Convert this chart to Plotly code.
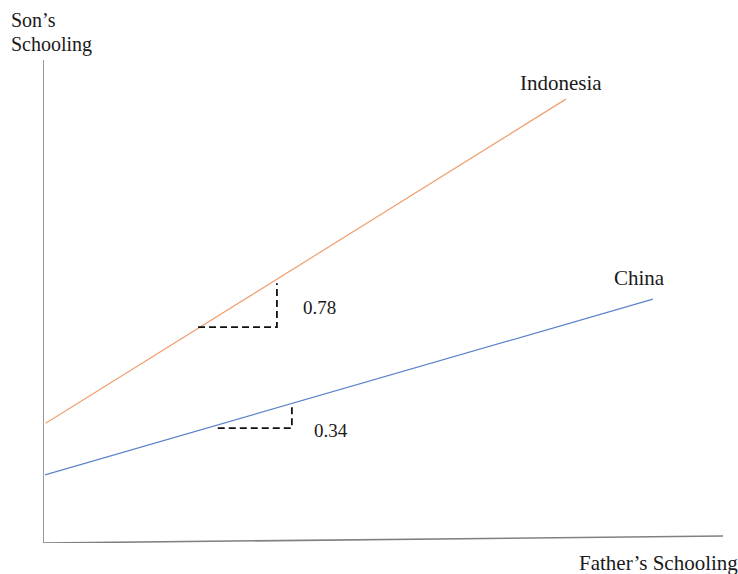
import plotly.graph_objects as go

# Conceptual schooling units (father's schooling on x, son's schooling on y)
indonesia_x = [0.04, 7.69]
indonesia_y = [2.48, 9.19]
china_x = [0.03, 8.97]
china_y = [1.41, 5.05]

# slope markers (run, then rise)
indo_tri_x = [2.28, 3.44, 3.44]
indo_tri_y = [4.47, 4.47, 5.38]
china_tri_x = [2.57, 3.66, 3.66]
china_tri_y = [2.38, 2.38, 2.88]

# axes drawn as lines
y_axis_x = [0, 0]
y_axis_y = [0, 10]
x_axis_x = [0, 10]
x_axis_y = [0, 0.145]

labels = {"indonesia": "Indonesia", "china": "China",
          "indo_slope": "0.78", "china_slope": "0.34",
          "ytitle": ["Son’s", "Schooling"], "xtitle": "Father’s Schooling"}

W, H = 738, 574
L, R, T, B = 43, 723, 60, 543

def px(x):
    return (x - L) / (R - L)

def py(y):
    return (B - y) / (B - T)

FONT = "Liberation Serif, Times New Roman, serif"
TXT = "#1a1a1a"

fig = go.Figure()
fig.add_trace(go.Scatter(x=y_axis_x, y=y_axis_y, mode="lines",
                         line=dict(color="#808080", width=1.6), hoverinfo="skip"))
fig.add_trace(go.Scatter(x=x_axis_x, y=x_axis_y, mode="lines",
                         line=dict(color="#808080", width=1.6), hoverinfo="skip"))
fig.add_trace(go.Scatter(x=indonesia_x, y=indonesia_y, mode="lines",
                         line=dict(color="#F0A070", width=1.2), name="Indonesia"))
fig.add_trace(go.Scatter(x=china_x, y=china_y, mode="lines",
                         line=dict(color="#5B84C8", width=1.2), name="China"))
fig.add_trace(go.Scatter(x=indo_tri_x, y=indo_tri_y, mode="lines",
                         line=dict(color="#111111", width=1.8, dash="7px,4px"), hoverinfo="skip"))
fig.add_trace(go.Scatter(x=china_tri_x, y=china_tri_y, mode="lines",
                         line=dict(color="#111111", width=1.8, dash="7px,4px"), hoverinfo="skip"))

def ann(text, x, y, size=20):
    fig.add_annotation(text=text, xref="paper", yref="paper", x=px(x), y=py(y),
                       xanchor="left", yanchor="middle", showarrow=False,
                       font=dict(family=FONT, size=size, color=TXT))

ann(labels["ytitle"][0], 9, 20)
ann(labels["ytitle"][1], 9, 44)
ann(labels["indonesia"], 518, 83, 21)
ann(labels["china"], 612, 278, 21)
ann(labels["indo_slope"], 301, 307, 19)
ann(labels["china_slope"], 312, 430, 19)
ann(labels["xtitle"], 577, 563, 21)

fig.update_layout(
    width=W, height=H, autosize=False,
    margin=dict(l=L, r=W - R, t=T, b=H - B, pad=0),
    paper_bgcolor="white", plot_bgcolor="white", showlegend=False,
    xaxis=dict(range=[0, 10], visible=False, fixedrange=True),
    yaxis=dict(range=[0, 10], visible=False, fixedrange=True),
)
fig.write_html("out.html", config={"displayModeBar": False},
               post_script="document.body.style.margin='0';document.body.style.padding='0';")
